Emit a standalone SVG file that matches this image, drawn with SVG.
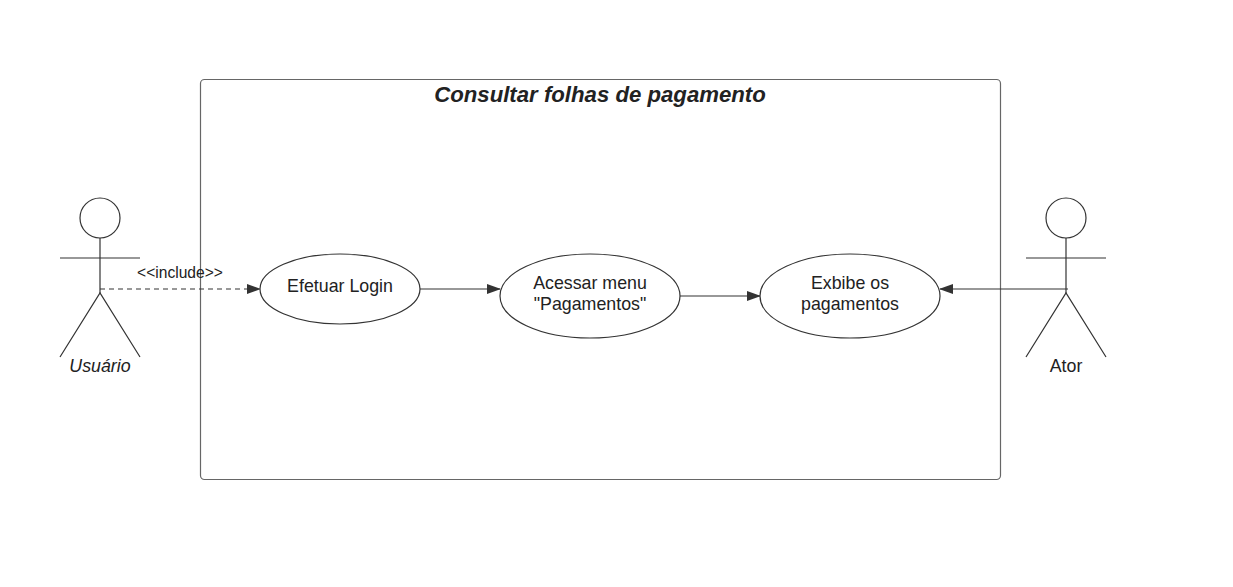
<svg xmlns="http://www.w3.org/2000/svg" width="1233" height="587" viewBox="0 0 1233 587">
<style>
text{font-family:"Liberation Sans",Arial,sans-serif;fill:#222}
.uc{fill:#fff;stroke:#333;stroke-width:1.2}
.act{fill:none;stroke:#333;stroke-width:1.2}
.lbl{font-size:17.8px;text-anchor:middle}
.con{stroke:#333;stroke-width:1.2;fill:none}
</style>
<defs>
<marker id="arr" markerWidth="14" markerHeight="10" refX="13" refY="5" orient="auto" markerUnits="userSpaceOnUse">
<path d="M0,0 L14,5 L0,10 Z" fill="#333"/>
</marker>
</defs>
<rect width="1233" height="587" fill="#fff"/>
<g id="boundary">
<rect x="200.5" y="79.5" width="800" height="400" rx="4" fill="none" stroke="#666" stroke-width="1.2"/>
<text x="600" y="102" font-size="22.2" font-weight="bold" font-style="italic" text-anchor="middle">Consultar folhas de pagamento</text>
</g>
<g id="connectors">
<line class="con" x1="100" y1="289" x2="260" y2="289" stroke-dasharray="5,4" marker-end="url(#arr)"/>
<text x="180" y="278" font-size="15.6" text-anchor="middle">&lt;&lt;include&gt;&gt;</text>
<line class="con" x1="420" y1="289" x2="500" y2="289" marker-end="url(#arr)"/>
<line class="con" x1="680" y1="296" x2="760" y2="296" marker-end="url(#arr)"/>
<line class="con" x1="1068" y1="289" x2="940" y2="289" marker-end="url(#arr)"/>
</g>
<g id="usuario">
<circle class="act" cx="100" cy="218" r="20"/>
<line class="act" x1="100" y1="238" x2="100" y2="293"/>
<line class="act" x1="60" y1="258" x2="140" y2="258"/>
<polyline class="act" points="60,357 100,293 140,357"/>
<text x="100" y="372" class="lbl" font-style="italic">Usuário</text>
</g>
<g id="ator">
<circle class="act" cx="1066" cy="218" r="20"/>
<line class="act" x1="1066" y1="238" x2="1066" y2="293"/>
<line class="act" x1="1026" y1="258" x2="1106" y2="258"/>
<polyline class="act" points="1026,357 1066,293 1106,357"/>
<text x="1066" y="372" class="lbl">Ator</text>
</g>
<g id="efetuar-login">
<ellipse class="uc" cx="340" cy="289" rx="80" ry="35"/>
<text x="340" y="292" class="lbl">Efetuar Login</text>
</g>
<g id="acessar-menu">
<ellipse class="uc" cx="590" cy="296" rx="90" ry="42"/>
<text x="590" y="289" class="lbl">Acessar menu</text>
<text x="590" y="310" class="lbl">"Pagamentos"</text>
</g>
<g id="exibe">
<ellipse class="uc" cx="850" cy="296" rx="90" ry="42"/>
<text x="850" y="289" class="lbl">Exbibe os</text>
<text x="850" y="310" class="lbl">pagamentos</text>
</g>
</svg>
